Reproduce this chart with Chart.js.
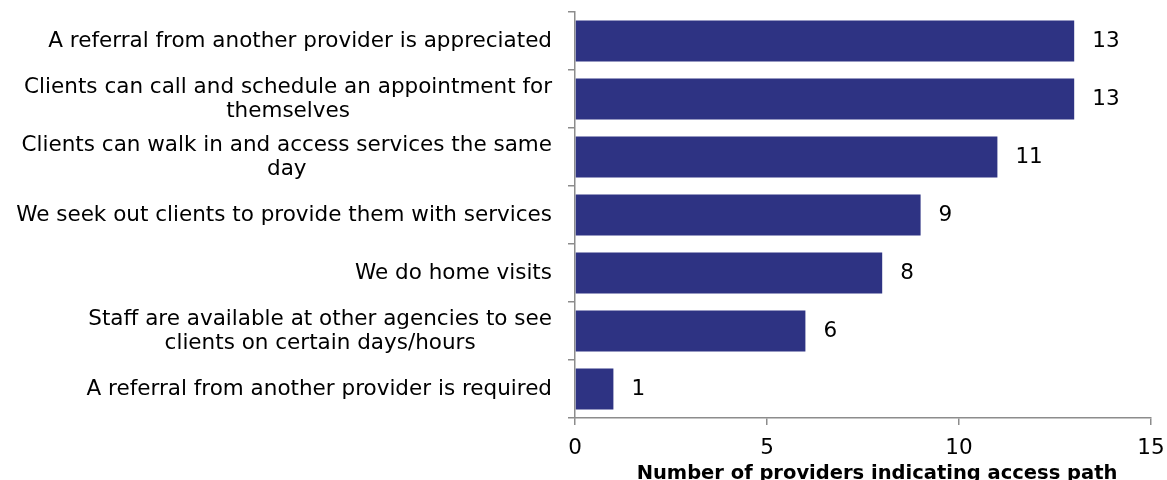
<!DOCTYPE html>
<html>
<head>
<meta charset="utf-8">
<script src="https://cdn.jsdelivr.net/npm/chart.js@4.4.1/dist/chart.umd.min.js"></script>
<style>
  html, body { margin: 0; padding: 0; background: #fff; }
  #wrap { width: 1167px; height: 480px; position: relative; }
</style>
</head>
<body>
<div id="wrap"><canvas id="c" width="1167" height="480"></canvas></div>
<script>
const categories = [
  ["A referral from another provider is appreciated"],
  ["Clients can call and schedule an appointment for", "themselves"],
  ["Clients can walk in and access services the same", "day"],
  ["We seek out clients to provide them with services"],
  ["We do home visits"],
  ["Staff are available at other agencies to see", "clients on certain days/hours"],
  ["A referral from another provider is required"]
];
const providerCounts = [13, 13, 11, 9, 8, 6, 1];
const xTicks = [0, 5, 10, 15];
const axisTitle = "Number of providers indicating access path";

const FONT = '"DejaVu Sans", sans-serif';
const BAR = '#2E3383';
const AXIS = '#8c8c8c';

const customText = {
  id: 'customText',
  afterDraw(chart) {
    const ctx = chart.ctx;
    const y = chart.scales.y;
    ctx.save();
    ctx.fillStyle = '#000';
    ctx.font = '21.5px ' + FONT;
    ctx.textBaseline = 'middle';
    categories.forEach((lines, i) => {
      const cy = y.getPixelForValue(i);
      const right = chart.chartArea.left - 23;
      const lh = 24;
      const maxW = Math.max(...lines.map(l => ctx.measureText(l).width));
      const cx = right - maxW / 2;
      ctx.textAlign = 'center';
      lines.forEach((l, k) => {
        ctx.fillText(l, cx, cy + (k - (lines.length - 1) / 2) * lh);
      });
    });
    ctx.textAlign = 'left';
    chart.getDatasetMeta(0).data.forEach((bar, i) => {
      ctx.fillText(String(providerCounts[i]), bar.x + 18, bar.y);
    });
    ctx.font = 'bold 19.5px ' + FONT;
    ctx.textAlign = 'center';
    ctx.textBaseline = 'alphabetic';
    ctx.fillText(axisTitle, 877, 479);
    ctx.restore();
  }
};

new Chart(document.getElementById('c'), {
  type: 'bar',
  data: {
    labels: categories,
    datasets: [{
      data: providerCounts,
      backgroundColor: BAR,
      borderWidth: 0,
      categoryPercentage: 1,
      barPercentage: 0.71
    }]
  },
  options: {
    indexAxis: 'y',
    responsive: false,
    animation: false,
    layout: { padding: { top: 12, right: 16, left: 0, bottom: 0 } },
    plugins: { legend: { display: false }, tooltip: { enabled: false }, title: { display: false } },
    scales: {
      x: {
        type: 'linear',
        min: 0, max: 15,
        afterBuildTicks(scale) { scale.ticks = xTicks.map(v => ({ value: v })); },
        afterFit(scale) { scale.height = 62; scale.paddingLeft = 0; scale.paddingRight = 0; },
        ticks: { color: '#000', font: { size: 21.5, family: FONT }, padding: 11, maxRotation: 0 },
        grid: { drawOnChartArea: false, tickLength: 7, color: AXIS, lineWidth: 1.5 },
        border: { color: AXIS, width: 1.5 }
      },
      y: {
        type: 'category',
        offset: true,
        afterFit(scale) { scale.width = 575; scale.paddingTop = 0; scale.paddingBottom = 0; },
        ticks: { display: true, callback: () => '' },
        grid: { offset: true, drawOnChartArea: false, tickLength: 7, color: AXIS, lineWidth: 1.5 },
        border: { color: AXIS, width: 1.5 }
      }
    }
  },
  plugins: [customText]
});
</script>
</body>
</html>
